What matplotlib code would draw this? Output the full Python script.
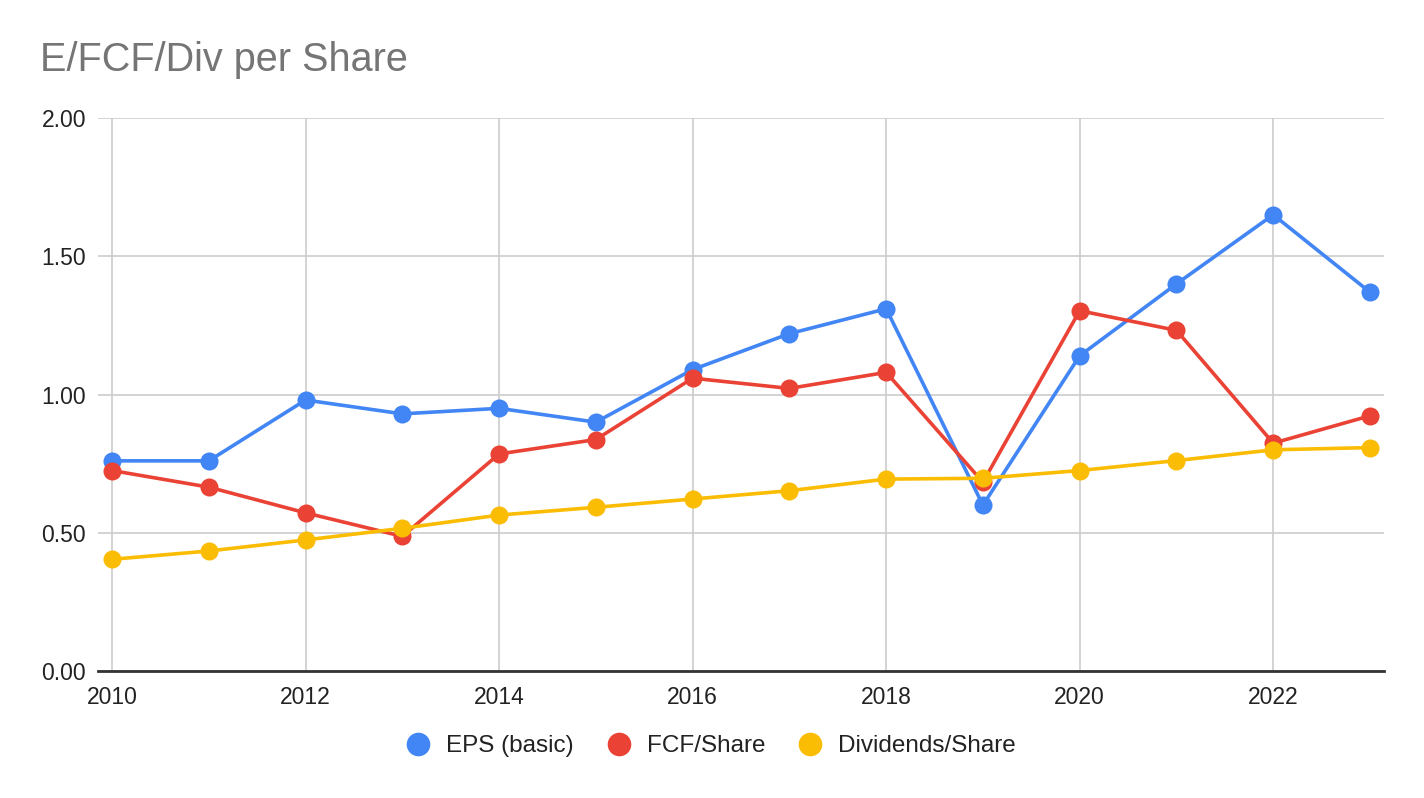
import matplotlib
matplotlib.use("Agg")
import matplotlib.pyplot as plt
from matplotlib.lines import Line2D

plt.rcParams['font.family'] = ['Liberation Sans', 'DejaVu Sans']

years = [2010, 2011, 2012, 2013, 2014, 2015, 2016, 2017, 2018, 2019, 2020, 2021, 2022, 2023]
eps = [0.76, 0.76, 0.98, 0.93, 0.95, 0.90, 1.09, 1.22, 1.31, 0.60, 1.14, 1.40, 1.65, 1.37]
fcf = [0.725, 0.665, 0.572, 0.487, 0.785, 0.837, 1.059, 1.022, 1.080, 0.683, 1.303, 1.232, 0.824, 0.923]
div = [0.404, 0.434, 0.474, 0.516, 0.564, 0.592, 0.622, 0.652, 0.694, 0.697, 0.725, 0.761, 0.800, 0.808]
series_names = ["EPS (basic)", "FCF/Share", "Dividends/Share"]
colors = ["#4285F4", "#EA4335", "#FBBC04"]
xticks = [2010, 2012, 2014, 2016, 2018, 2020, 2022]
yticks = [0.0, 0.5, 1.0, 1.5, 2.0]

fig = plt.figure(figsize=(14.24, 7.98), dpi=100)
ax = fig.add_axes([98/1424, 1-671/798, (1384-98)/1424, (671-118)/798])

for i, (vals, c) in enumerate(zip([eps, fcf, div], colors)):
    ax.plot(years, vals, color=c, lw=2.6, marker='o', markersize=13,
            markeredgewidth=0, zorder=3+i, solid_capstyle='round', clip_on=False)

ax.set_xlim(2010 - 14/96.77, 2023 + 14/96.77)
ax.set_ylim(0, 2)
ax.set_xticks(xticks)
ax.set_xticklabels([str(x) for x in xticks])
ax.set_yticks(yticks)
ax.set_yticklabels([f"{y:.2f}" for y in yticks])
ax.grid(True, color="#cccccc", lw=1.2, zorder=0)
ax.set_axisbelow(True)
for s in ['top', 'right', 'left']:
    ax.spines[s].set_visible(False)
ax.spines['bottom'].set_color('#333333')
ax.spines['bottom'].set_linewidth(2)
ax.spines['bottom'].set_zorder(2)
ax.tick_params(axis='both', length=0, labelsize=16.5, colors='#222222')
ax.tick_params(axis='y', pad=8.6)
ax.tick_params(axis='x', pad=11)

fig.text(40/1424, 1-60/798, "E/FCF/Div per Share", fontsize=28.5, color="#757575",
         va='center', ha='left')

handles = [Line2D([], [], lw=0, marker='o', markersize=17, markeredgewidth=0, color=c)
           for c in colors]
fig.legend(handles, series_names, loc='center', bbox_to_anchor=(711/1424, 1-746/798),
           ncol=3, frameon=False, fontsize=17.5, handletextpad=0.65, columnspacing=1.34,
           handlelength=1.0, labelcolor='#222222', borderpad=0, borderaxespad=0)

fig.savefig("out.png", dpi=100)
